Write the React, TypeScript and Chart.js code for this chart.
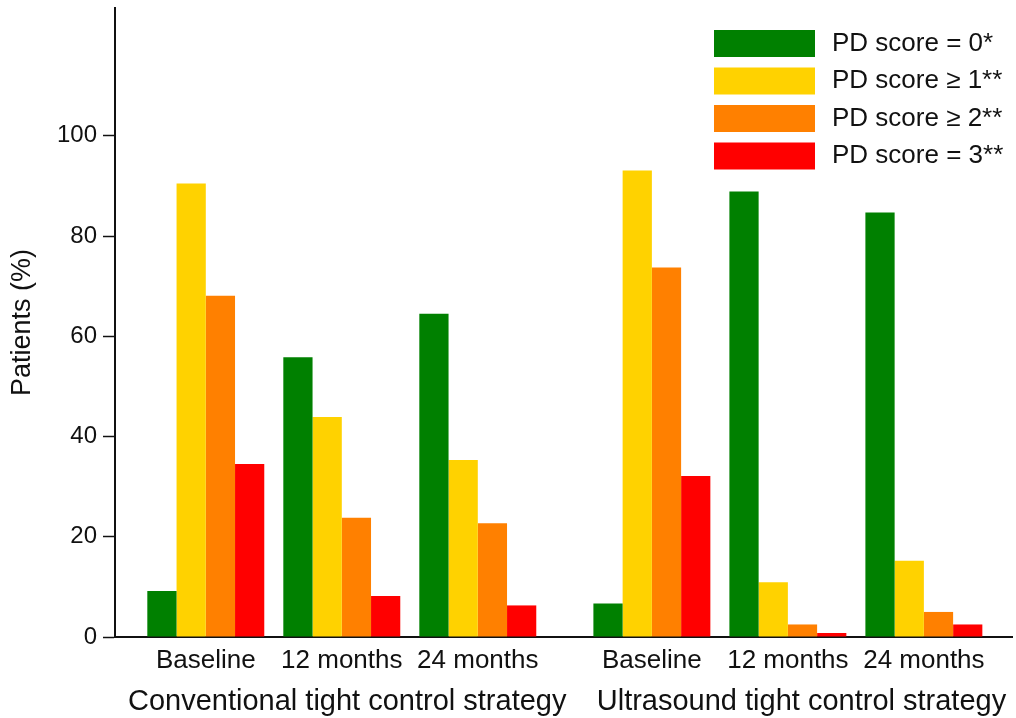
import React, { useEffect, useRef } from 'react';
import { Chart, registerables } from 'chart.js';

Chart.register(...registerables);

// ---- data ----
const timepoints = ['Baseline', '12 months', '24 months', 'Baseline', '12 months', '24 months'];
const strategies = ['Conventional tight control strategy', 'Ultrasound tight control strategy'];
// x positions of the six time-point groups (second strategy block starts after a wider gap)
const groupPositions = [0, 1, 2, 3.28, 4.28, 5.28];
const strategyLabelPositions = [1.04, 4.38];
const seriesLabels = ['PD score = 0*', 'PD score \u2265 1**', 'PD score \u2265 2**', 'PD score = 3**'];
const pd0 = [9.2, 55.8, 64.5, 6.7, 88.9, 84.7];
const pd1 = [90.5, 43.9, 35.3, 93.1, 10.9, 15.2];
const pd2 = [68.1, 23.8, 22.7, 73.7, 2.5, 5.0];
const pd3 = [34.5, 8.2, 6.3, 32.1, 0.8, 2.5];
const yTicks = [0, 20, 40, 60, 80, 100];

const colors = ['#008000', '#FFD200', '#FF8000', '#FF0000'];
const FONT = '"Liberation Sans", Arial, Helvetica, sans-serif';
const INK = '#111111';

const legendPlugin = {
  id: 'boxLegend',
  afterDraw(chart: any) {
    const ctx = chart.ctx;
    ctx.save();
    chart.data.datasets.forEach((ds: any, i: number) => {
      const top = 30 + i * 37.5;
      ctx.fillStyle = ds.backgroundColor;
      ctx.fillRect(714, top, 101, 27);
      ctx.fillStyle = INK;
      ctx.font = `26px ${FONT}`;
      ctx.textBaseline = 'middle';
      ctx.textAlign = 'left';
      ctx.fillText(ds.label, 832, top + 13.5);
    });
    ctx.restore();
  },
};

export default function App() {
  const ref = useRef<HTMLCanvasElement | null>(null);

  useEffect(() => {
    if (!ref.current) return;
    Chart.defaults.font.family = FONT;
    const series = [pd0, pd1, pd2, pd3];
    const xMin = -0.6676;
    const xMax = 5.928;
    const chart = new Chart(ref.current, {
      type: 'bar',
      data: {
        datasets: series.map((vals, si) => ({
          label: seriesLabels[si],
          data: groupPositions.map((x, i) => ({ x, y: vals[i] })),
          backgroundColor: colors[si],
          borderWidth: 0,
          categoryPercentage: 0.86,
          barPercentage: 1,
        })),
      },
      options: {
        animation: false,
        responsive: false,
        layout: { padding: { top: 8, right: 4, left: 0, bottom: 0 } },
        plugins: { legend: { display: false }, tooltip: { enabled: false } },
        scales: {
          x: {
            type: 'linear',
            position: 'bottom',
            weight: 0,
            offset: false,
            min: xMin,
            max: xMax,
            grid: { display: false, offset: false },
            border: { display: true, color: INK, width: 2 },
            afterBuildTicks: (s: any) => {
              s.ticks = groupPositions.map((v) => ({ value: v }));
            },
            afterFit: (s: any) => {
              s.height = 38;
              s.paddingLeft = 0;
              s.paddingRight = 0;
            },
            ticks: {
              autoSkip: false,
              maxRotation: 0,
              minRotation: 0,
              padding: 0,
              color: INK,
              font: { size: 26 },
              callback: (_v: any, i: number) => timepoints[i],
            },
          },
          x2: {
            type: 'linear',
            position: 'bottom',
            weight: 1,
            offset: false,
            min: xMin,
            max: xMax,
            grid: { display: false },
            border: { display: false },
            afterBuildTicks: (s: any) => {
              s.ticks = strategyLabelPositions.map((v) => ({ value: v }));
            },
            afterFit: (s: any) => {
              s.height = 43;
              s.paddingLeft = 0;
              s.paddingRight = 0;
            },
            ticks: {
              autoSkip: false,
              maxRotation: 0,
              minRotation: 0,
              padding: 2,
              color: INK,
              font: { size: 29 },
              callback: (_v: any, i: number) => strategies[i],
            },
          },
          y: {
            type: 'linear',
            min: 0,
            max: 125.5,
            grid: {
              display: true,
              drawOnChartArea: false,
              drawTicks: true,
              tickLength: 12,
              tickWidth: 1.5,
              tickColor: INK,
            },
            border: { display: true, color: INK, width: 2 },
            afterBuildTicks: (s: any) => {
              s.ticks = yTicks.map((v) => ({ value: v }));
            },
            afterFit: (s: any) => {
              s.width = 115;
              s.paddingTop = 0;
              s.paddingBottom = 0;
            },
            ticks: {
              padding: 6,
              color: INK,
              font: { size: 24 },
            },
            title: {
              display: true,
              text: 'Patients (%)',
              color: INK,
              font: { size: 27, lineHeight: 1 },
              padding: { top: 9.5, bottom: 0 },
            },
          },
        },
      },
      plugins: [legendPlugin],
    } as any);
    return () => chart.destroy();
  }, []);

  return (
    <div style={{ position: 'absolute', left: 0, top: 0, width: 1016, height: 718, background: '#fff' }}>
      <canvas ref={ref} width={1016} height={718} style={{ display: 'block' }} />
    </div>
  );
}
